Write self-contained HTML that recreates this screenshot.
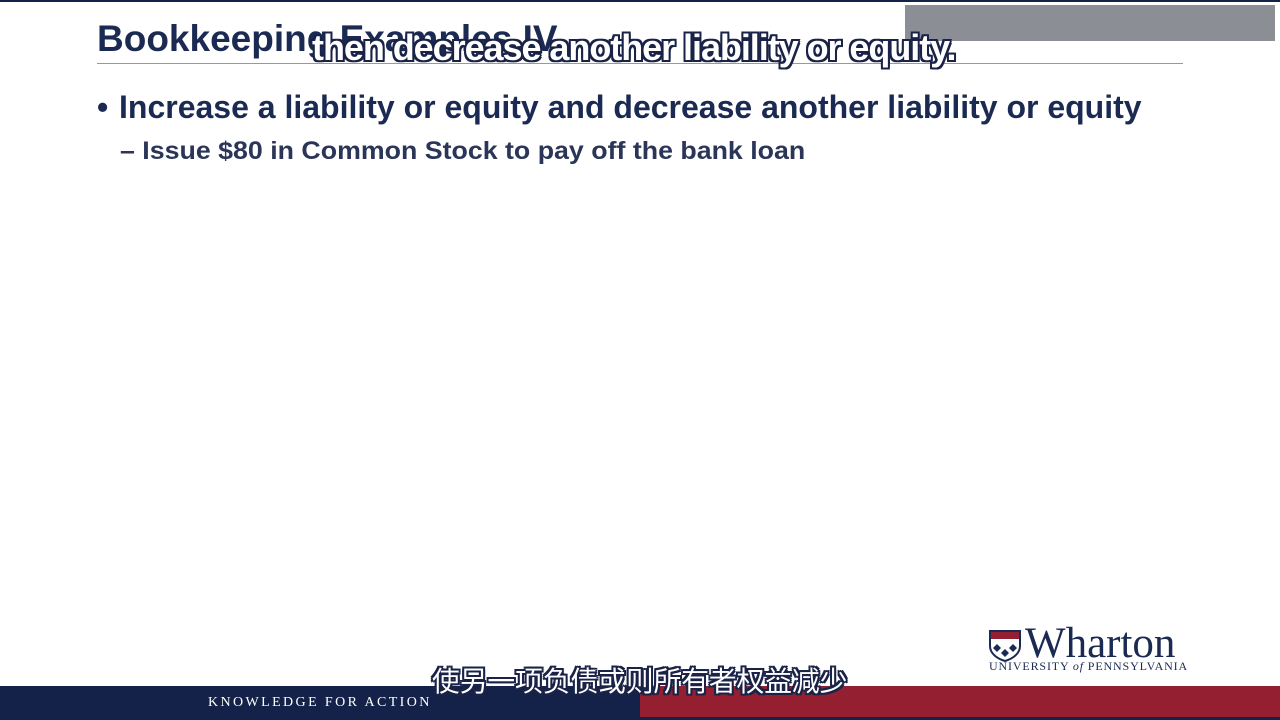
<!DOCTYPE html>
<html><head><meta charset="utf-8"><style>
body{margin:0;width:1280px;height:720px;position:relative;overflow:hidden;background:#fff;font-family:"Liberation Sans","Noto Sans CJK SC",sans-serif}
div{position:absolute}
.out{color:#fff;text-shadow:-2px 0 #1a2347,2px 0 #1a2347,0 -2px #1a2347,0 2px #1a2347,-2px -2px #1a2347,2px 2px #1a2347,-2px 2px #1a2347,2px -2px #1a2347;white-space:nowrap}
</style></head><body>
<div style="left:0;top:0;width:1280px;height:2px;background:#14224a"></div>
<div style="left:905px;top:5px;width:370px;height:36px;background:#8c8e96"></div>
<div style="left:97px;top:18px;font-size:37px;font-weight:bold;color:#1b2a52;white-space:nowrap">Bookkeeping Examples IV</div>
<div style="left:97px;top:63px;width:1086px;height:1px;background:#999"></div>
<div class="out" style="left:312px;top:27px;font-size:36px;font-weight:bold;letter-spacing:-1.05px">then decrease another liability or equity.</div>
<div style="left:97px;top:89px;font-size:32px;font-weight:bold;color:#1b2a52">•</div>
<div style="left:119px;top:89px;font-size:32px;font-weight:bold;color:#1b2a52;white-space:nowrap">Increase a liability or equity and decrease another liability or equity</div>
<div style="left:120px;top:137px;font-size:25px;font-weight:bold;color:#2a3558;white-space:nowrap;transform:scaleX(1.07);transform-origin:left">– Issue $80 in Common Stock to pay off the bank loan</div>
<div style="left:989px;top:628px;width:200px;height:45px">
<svg width="32" height="32" style="position:absolute;left:0;top:2px"><path d="M1 1h30v15c0 8-8 13-15 15C9 29 1 24 1 16z" fill="#fff" stroke="#1b2a52" stroke-width="2"/><rect x="2" y="2" width="28" height="7" fill="#951f32"/><path d="M8 14l4 4-4 4-4-4zM24 14l4 4-4 4-4-4zM16 19l4 4-4 4-4-4z" fill="#1b2a52"/></svg>
<div style="left:36px;top:-9px;font-family:'Liberation Serif',serif;font-size:43px;color:#1b2a52;letter-spacing:0px">Wharton</div>
<div style="left:0;top:31px;font-family:'Liberation Serif',serif;font-size:12px;color:#1b2a52;white-space:nowrap;letter-spacing:0.85px">UNIVERSITY <i>of</i> PENNSYLVANIA</div>
</div>
<div style="left:0;top:686px;width:640px;height:34px;background:#14224a"></div>
<div style="left:640px;top:686px;width:640px;height:31px;background:#941f31"></div>
<div style="left:640px;top:717px;width:640px;height:3px;background:#14224a"></div>
<div style="left:208px;top:695px;font-family:'Liberation Serif',serif;font-size:14px;letter-spacing:2.4px;color:#fff">KNOWLEDGE FOR ACTION</div>
<div class="out" style="left:432px;top:659px;font-size:27.7px">使另一项负债或则所有者权益减少</div>
</body></html>
